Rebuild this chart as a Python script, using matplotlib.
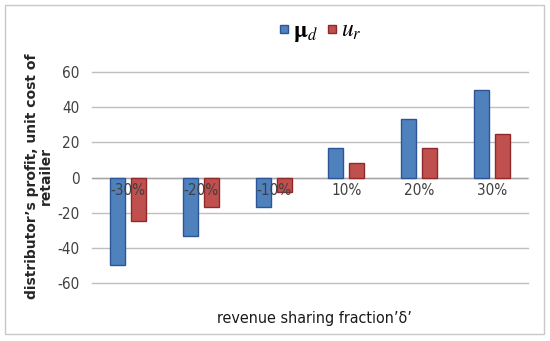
import matplotlib
matplotlib.use("Agg")
import matplotlib.pyplot as plt
import numpy as np
from matplotlib.patches import Rectangle
from matplotlib.lines import Line2D

categories = ["-30%", "-20%", "-10%", "10%", "20%", "30%"]
mu_d = [-50, -33.3, -16.7, 16.7, 33.3, 50]
u_r = [-25, -16.7, -8.3, 8.3, 16.7, 25]
yticks = [-60, -40, -20, 0, 20, 40, 60]

blue, blue_edge = "#4F81BD", "#2C5597"
red, red_edge = "#C0504D", "#8E2B2A"
plt.rcParams["mathtext.fontset"] = "stix"
narrow = dict(family="DejaVu Sans", stretch="condensed")

fig = plt.figure(figsize=(5.5, 3.41), dpi=100)
fig.patches.append(Rectangle((5/550, 1-334/341), 539/550, 329/341, transform=fig.transFigure,
                             fill=False, edgecolor="#C8C8C8", linewidth=1.0))
ax = fig.add_axes([92/550, 1-283/341, 436/550, 211/341])

x = np.arange(len(categories))
w = 0.205
gap = 0.085
ax.bar(x - (w+gap)/2, mu_d, w, color=blue, edgecolor=blue_edge, linewidth=1.0, zorder=3)
ax.bar(x + (w+gap)/2, u_r, w, color=red, edgecolor=red_edge, linewidth=1.0, zorder=3)

ax.set_xlim(-0.5, len(categories)-0.5)
ax.set_ylim(-60, 60)
ax.set_yticks(yticks)
ax.set_yticklabels([str(v) for v in yticks], fontsize=11, color="#404040", **narrow)
ax.tick_params(axis="y", length=0, pad=9)
ax.grid(axis="y", color="#BFBFBF", linewidth=1.0, zorder=0)
for gl in ax.get_ygridlines():
    gl.set_clip_on(False)
for s in ax.spines.values():
    s.set_visible(False)
ax.set_xticks([])
ax.axhline(0, color="#A6A6A6", linewidth=1.0, zorder=2)
for xi, c in zip(x, categories):
    ax.text(xi, -3, c, ha="center", va="top", fontsize=11, color="#404040", zorder=4, **narrow)

fig.text(39/550, 1-176/341, "distributor\u2019s profit, unit cost of\nretailer", rotation=90,
         ha="center", va="center", fontsize=10, color="#262626", linespacing=1.05, fontweight="bold")
fig.text(314/550, 1-318/341, "revenue sharing fraction\u2019\u03b4\u2019", ha="center", va="center",
         fontsize=11.5, color="#1a1a1a", **narrow)

handles = [Line2D([], [], marker="s", linestyle="", markersize=5.5, markerfacecolor=blue, markeredgecolor=blue_edge),
           Line2D([], [], marker="s", linestyle="", markersize=5.5, markerfacecolor=red, markeredgecolor=red_edge)]
fig.legend(handles, [r"$\mathbf{\mu}_{d}$", r"$u_{r}$"], loc="center", bbox_to_anchor=(320/550, 1-31/341),
           ncol=2, frameon=False, fontsize=17, handletextpad=0.15, columnspacing=0.3, handlelength=0.5,
           borderpad=0.1)

fig.savefig("out.png", dpi=100)
